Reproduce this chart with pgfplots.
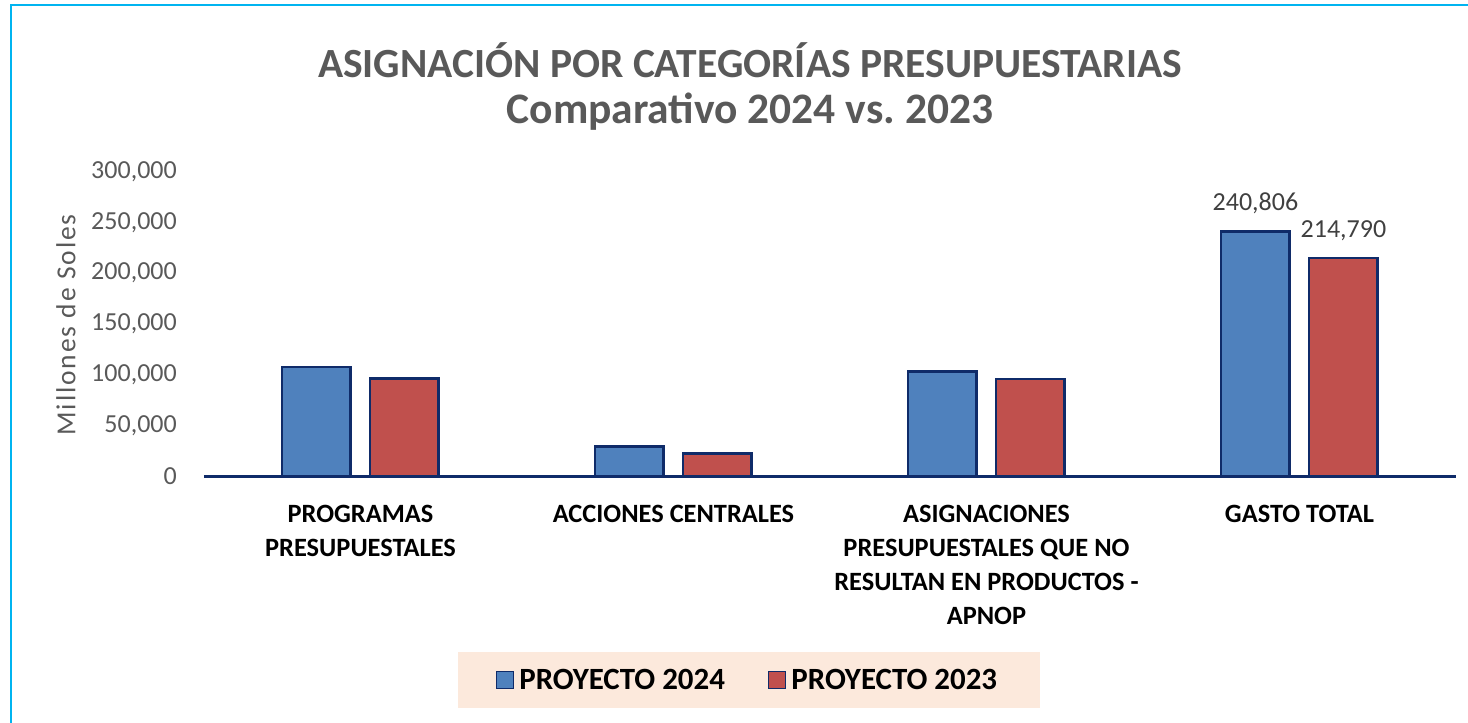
\documentclass[border=0pt]{standalone}
\usepackage{pgfplots}
\pgfplotsset{compat=1.18}
\usepackage{fontspec}
\setmainfont{Carlito}
\definecolor{bblue}{HTML}{4F81BD}
\definecolor{rred}{HTML}{C0504D}
\definecolor{navy}{HTML}{0F2B69}
\definecolor{framec}{HTML}{00B4F0}
\definecolor{gtxt}{HTML}{595959}
\definecolor{ltxt}{HTML}{404040}
\definecolor{peach}{HTML}{FCE9DC}
\begin{document}
\begin{tikzpicture}
\path[use as bounding box] (-204pt,-246.5pt) rectangle (1264pt,476.5pt);
\draw[framec, line width=2.5pt] (-193pt,-250pt) -- (-193pt,471.5pt) -- (1270pt,471.5pt);
\node[font=\fontsize{41.5}{48}\selectfont\bfseries, text=gtxt] at (546pt,416.5pt) {ASIGNACIÓN POR CATEGORÍAS PRESUPUESTARIAS};
\node[font=\fontsize{43.5}{48}\selectfont\bfseries, text=gtxt] at (546pt,364.5pt) {Comparativo 2024 vs.\ 2023};
\begin{axis}[
  scale only axis, width=1252pt, height=305pt,
  ymin=0, ymax=300000, xmin=-0.5, xmax=3.5,
  ybar=19.5pt, bar width=68.5pt,
  separate axis lines,
  axis x line*=bottom, axis y line*=left,
  x axis line style={navy, line width=2.5pt, -},
  y axis line style={draw=none},
  major tick length=0pt,
  ytick={0,50000,100000,150000,200000,250000,300000},
  scaled y ticks=false,
  yticklabel style={font=\fontsize{26}{30}\selectfont, text=gtxt, anchor=east, inner sep=0pt, xshift=-27pt,
    /pgf/number format/.cd, fixed, precision=0, 1000 sep={,}, assume math mode=true},
  xtick={0,1,2,3},
  xticklabels={{PROGRAMAS\\PRESUPUESTALES},{ACCIONES CENTRALES},{ASIGNACIONES\\PRESUPUESTALES QUE NO\\RESULTAN EN PRODUCTOS -\\APNOP},{GASTO TOTAL}},
  xticklabel style={align=center, font=\fontsize{26.4}{34}\selectfont\bfseries, text=black, anchor=north, inner sep=0pt, yshift=-28pt},
  ylabel={\addfontfeature{LetterSpace=7}Millones de Soles},
  ylabel style={at={(axis description cs:-0.1102,0.497)}, anchor=center, font=\fontsize{27.5}{32}\selectfont, text=gtxt},
  point meta=explicit symbolic,
  nodes near coords,
  every node near coord/.append style={anchor=base, yshift=21pt, inner sep=0pt, font=\fontsize{26}{30}\selectfont, text=ltxt},
  legend columns=2,
  legend style={at={(axis description cs:0.4353,-0.667)}, anchor=center, fill=peach, draw=none,
    font=\fontsize{30.9}{36}\selectfont\bfseries, inner xsep=38pt, inner ysep=15pt,
    nodes={inner xsep=5pt},
    /tikz/every even column/.append style={column sep=38pt}},
  legend image code/.code={\draw[#1, line width=1.5pt] (0pt,-8.5pt) rectangle (17pt,8.5pt);},
]
\addplot[fill=bblue, draw=navy, line width=2.5pt] coordinates {(0,107900) [] (1,29600) [] (2,103306) [] (3,240806) [240,806]};
\addplot[fill=rred, draw=navy, line width=2.5pt] coordinates {(0,96400) [] (1,22700) [] (2,95690) [] (3,214790) [214,790]};
\legend{PROYECTO 2024, PROYECTO 2023}
\end{axis}
\end{tikzpicture}
\end{document}
